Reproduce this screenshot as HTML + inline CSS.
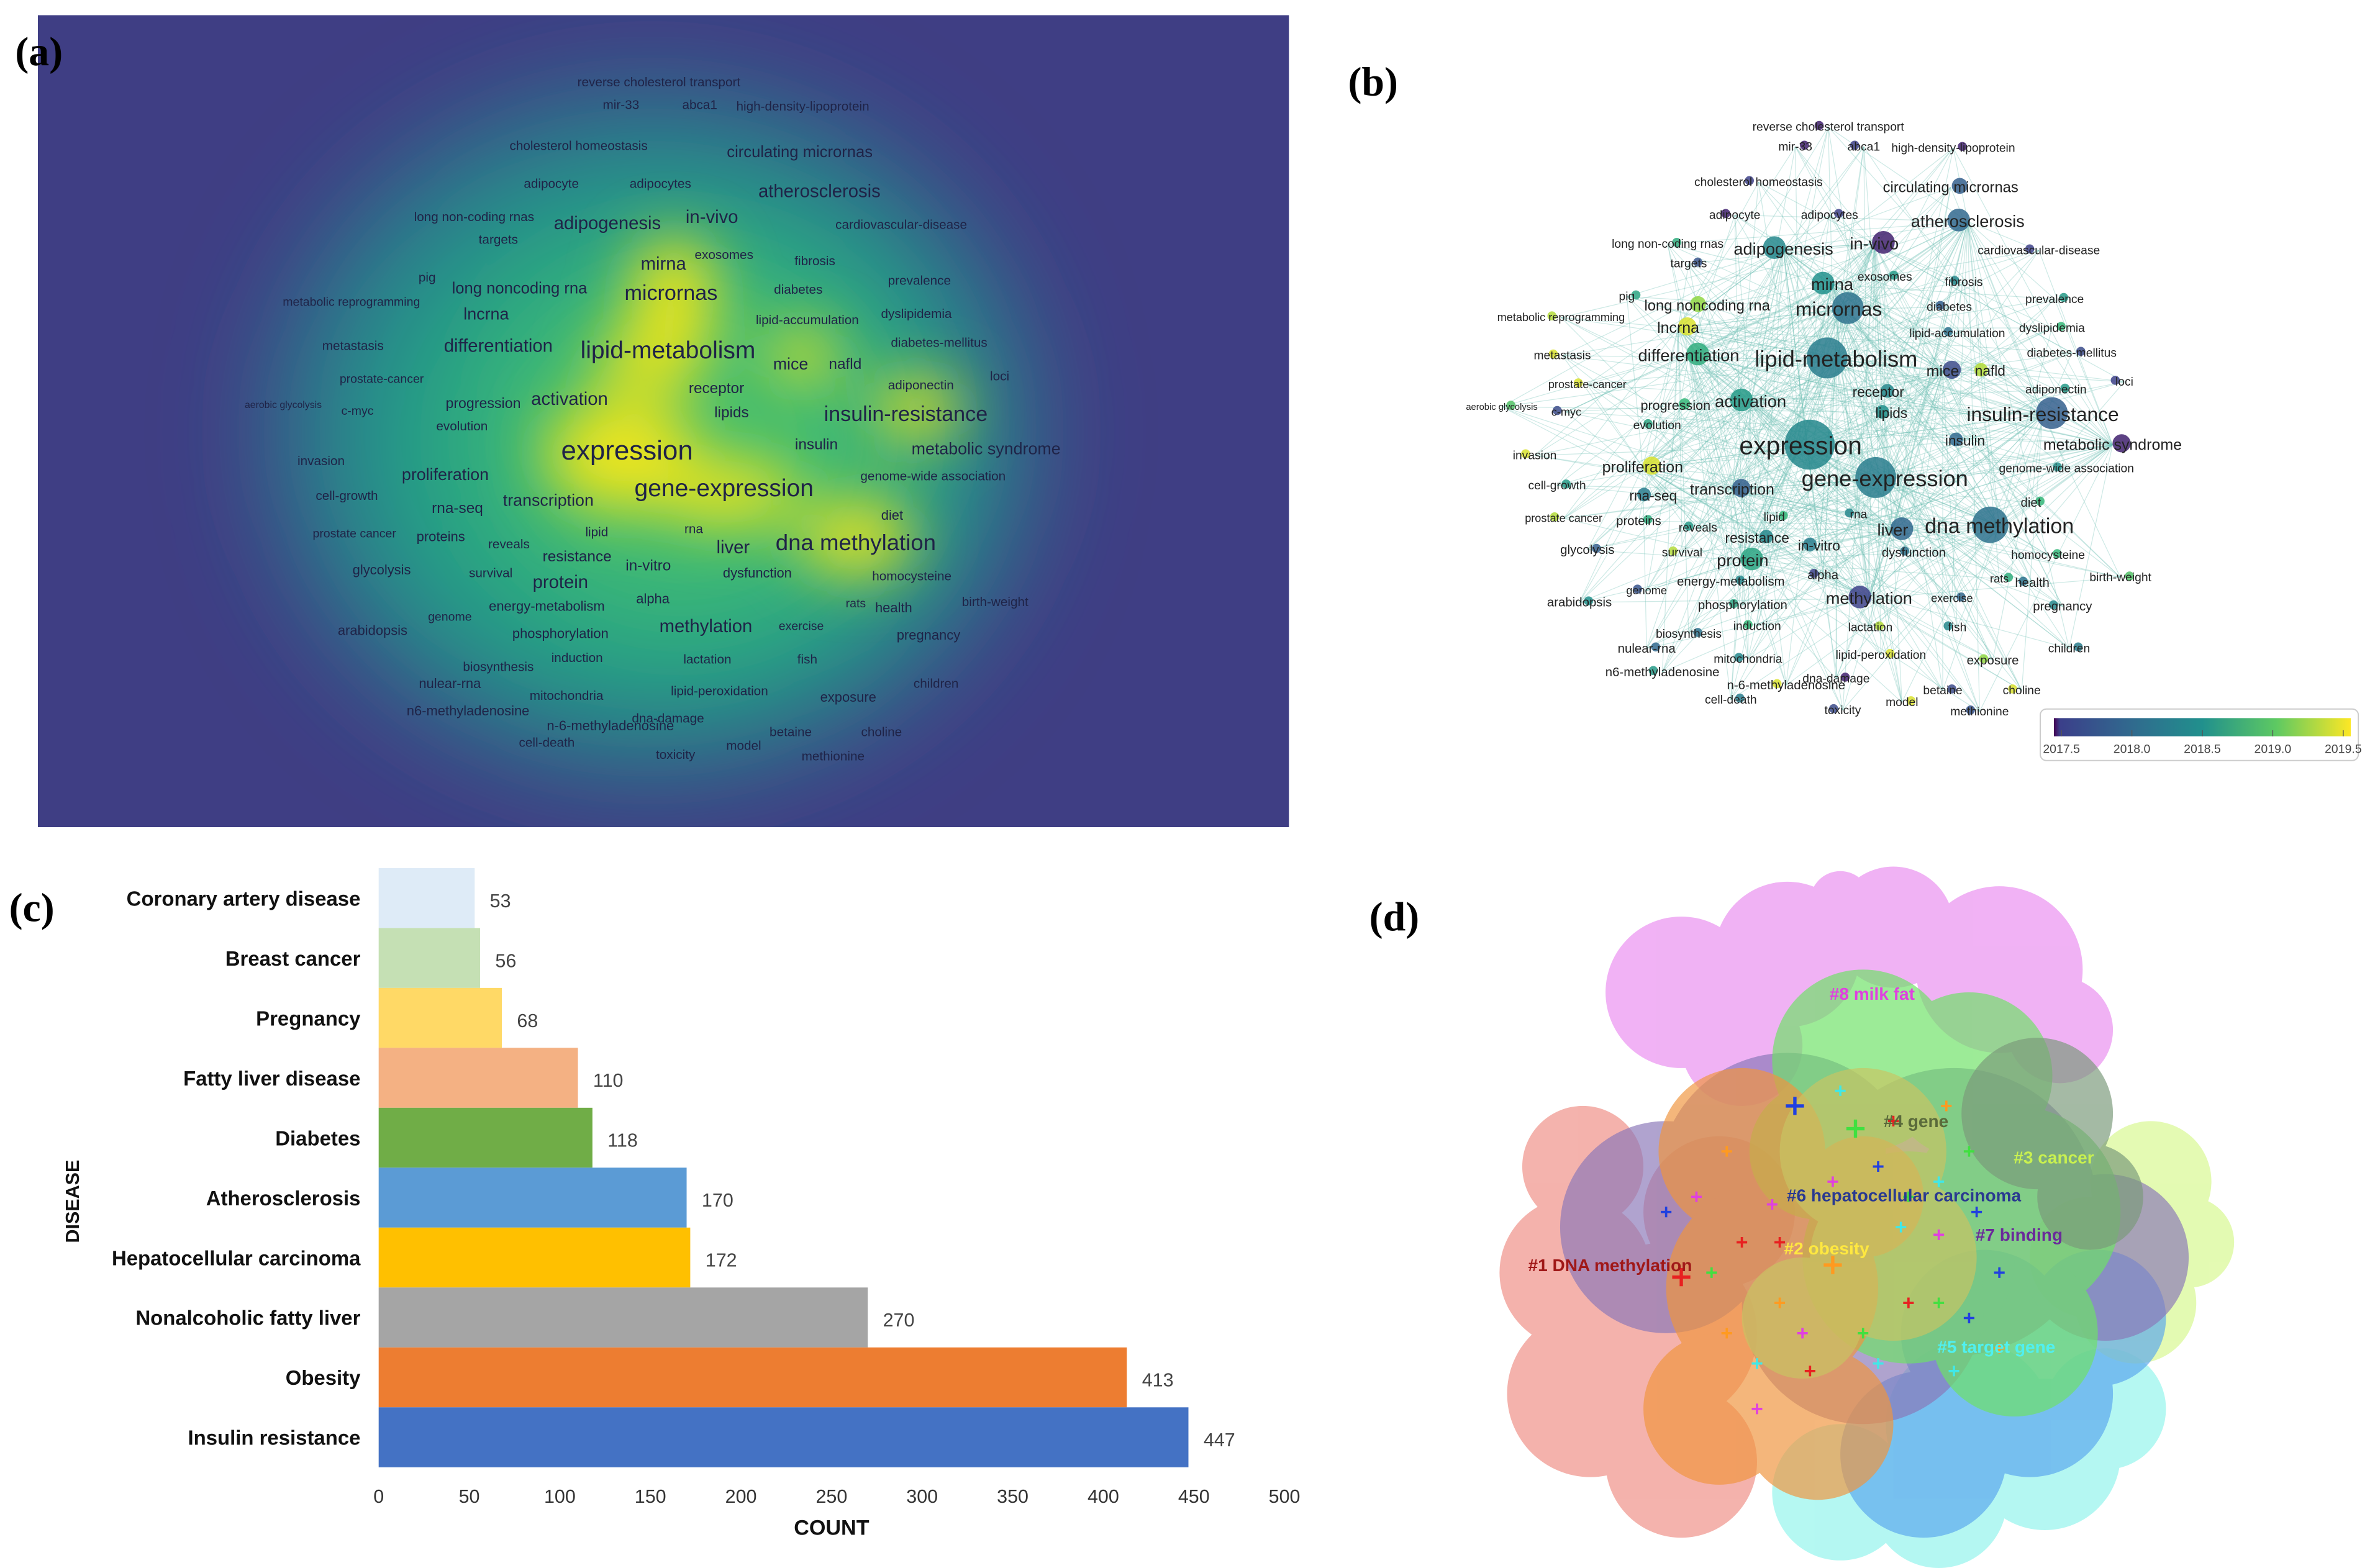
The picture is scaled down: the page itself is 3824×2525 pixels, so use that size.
<!DOCTYPE html>
<html><head><meta charset="utf-8"><style>
html,body{margin:0;padding:0;background:#fff;}
svg{display:block;}
.t{font-family:"Liberation Sans Narrow","Liberation Sans",sans-serif;}
</style></head><body>
<svg id="fig" width="3824" height="2525" viewBox="0 0 1568 1035" preserveAspectRatio="none" xmlns="http://www.w3.org/2000/svg">
<defs>
<filter id="blurA" x="-50%" y="-50%" width="200%" height="200%"><feGaussianBlur stdDeviation="36"/></filter>
<filter id="blurB" x="-50%" y="-50%" width="200%" height="200%"><feGaussianBlur stdDeviation="20"/></filter>
<clipPath id="clipA"><rect x="25" y="10" width="826" height="536"/></clipPath>
<linearGradient id="viridis" x1="0" x2="1" y1="0" y2="0">
<stop offset="0" stop-color="#440154"/><stop offset="0.02" stop-color="#3b3f8a"/><stop offset="0.25" stop-color="#31688e"/><stop offset="0.5" stop-color="#21908d"/><stop offset="0.75" stop-color="#5ec962"/><stop offset="1" stop-color="#fde725"/>
</linearGradient>
</defs>
<rect width="1568" height="1035" fill="#fff"/>
<g id="panelA"></g>
<g id="panelB"></g>
<g id="panelC"></g>
<g id="panelD"></g>
<text x="10" y="43" font-family="Liberation Serif,serif" font-weight="bold" font-size="27">(a)</text>
<text x="890" y="63" font-family="Liberation Serif,serif" font-weight="bold" font-size="27">(b)</text>
<text x="6" y="608" font-family="Liberation Serif,serif" font-weight="bold" font-size="27">(c)</text>
<text x="904" y="614" font-family="Liberation Serif,serif" font-weight="bold" font-size="27">(d)</text>
</svg>
<script>
const NS="http://www.w3.org/2000/svg";
function mk(tag,attrs,parent){const e=document.createElementNS(NS,tag);for(const k in attrs)e.setAttribute(k,attrs[k]);if(parent)parent.appendChild(e);return e;}

/* ---------- Panel C data ---------- */
const diseaseCategories=["Coronary artery disease","Breast cancer","Pregnancy","Fatty liver disease","Diabetes","Atherosclerosis","Hepatocellular carcinoma","Nonalcoholic fatty liver","Obesity","Insulin resistance"];
const diseaseCounts=[53,56,68,110,118,170,172,270,413,447];
const barColors=["#deebf7","#c5e0b4","#ffd966","#f4b183","#70ad47","#5b9bd5","#ffc000","#a5a5a5","#ed7d31","#4472c4"];
const countTicks=[0,50,100,150,200,250,300,350,400,450,500];

/* ---------- Panel A/B keyword data: [term, x, y, fontsize] ---------- */
const keywords=[
["reverse cholesterol transport",435,54,8.5],["mir-33",410,69,8.5],["abca1",462,69,8.5],["high-density-lipoprotein",530,70,8.5],
["cholesterol homeostasis",382,96,8.5],["circulating micrornas",528,100,10.5],
["adipocyte",364,121,8.5],["adipocytes",436,121,8.5],["atherosclerosis",541,126,12],
["long non-coding rnas",313,143,8.5],["adipogenesis",401,147,12],["in-vivo",470,143,12],["cardiovascular-disease",595,148,8.5],
["targets",329,158,8.5],["mirna",438,174,12],["exosomes",478,168,8.5],["fibrosis",538,172,8.5],
["pig",282,183,8.5],["long noncoding rna",343,190,10.5],["micrornas",443,193,14],["diabetes",527,191,8.5],["prevalence",607,185,8.5],
["metabolic reprogramming",232,199,8],["lncrna",321,207,11],["lipid-accumulation",533,211,8.5],["dyslipidemia",605,207,8.5],
["metastasis",233,228,8.5],["differentiation",329,228,12],["lipid-metabolism",441,231,16],["mice",522,240,11],["nafld",558,240,10],["diabetes-mellitus",620,226,8.5],
["prostate-cancer",252,250,8],["adiponectin",608,254,8.5],["loci",660,248,8.5],
["aerobic glycolysis",187,267,6.5],["c-myc",236,271,8],["progression",319,266,9.5],["activation",376,263,12],["receptor",473,256,10],["lipids",483,272,10],["insulin-resistance",598,273,14],
["evolution",305,281,8.5],["expression",414,297,18],["insulin",539,293,10],["metabolic syndrome",651,296,11],
["invasion",212,304,8.5],["proliferation",294,313,11],["genome-wide association",616,314,8.5],
["cell-growth",229,327,8.5],["rna-seq",302,335,10],["transcription",362,330,11],["gene-expression",478,322,16],
["diet",589,340,9],["prostate cancer",234,352,8],["proteins",291,354,9],["reveals",336,359,8.5],["lipid",394,351,8.5],["rna",458,349,8.5],["liver",484,361,12],["dna methylation",565,358,15],
["resistance",381,367,10],["in-vitro",428,373,10],["glycolysis",252,376,9],["survival",324,378,8.5],["protein",370,384,12],["dysfunction",500,378,9],["homocysteine",602,380,8.5],
["alpha",431,395,9],["rats",565,398,8],["health",590,401,9],["birth-weight",657,397,8.5],
["genome",297,407,8],["energy-metabolism",361,400,9],["methylation",466,413,12],["exercise",529,413,8],["pregnancy",613,419,9],
["arabidopsis",246,416,9],["phosphorylation",370,418,9],
["biosynthesis",329,440,8.5],["induction",381,434,8.5],["lactation",467,435,8.5],["fish",533,435,8.5],
["nulear-rna",297,451,9],["mitochondria",374,459,8.5],["lipid-peroxidation",475,456,8.5],["exposure",560,460,9],["children",618,451,8.5],
["n6-methyladenosine",309,469,9],["dna-damage",441,474,8.5],["n-6-methyladenosine",403,479,9],["betaine",522,483,8.5],["choline",582,483,8.5],
["cell-death",361,490,8.5],["toxicity",446,498,8.5],["model",491,492,8.5],["methionine",550,499,8.5]
];
const keywordYears=[2017.6,2017.6,2017.7,2017.6,2017.7,2018.0,2017.6,2017.7,2018.1,2018.8,2018.4,2017.6,2017.7,2017.9,2018.5,2018.6,2018.4,2018.7,2019.2,2018.2,2018.0,2018.6,2019.3,2019.4,2018.2,2018.9,2019.4,2018.8,2018.3,2017.8,2019.3,2017.8,2019.4,2018.6,2017.7,2019.0,2017.8,2018.9,2018.6,2018.4,2018.5,2018.0,2018.7,2018.4,2018.1,2017.6,2019.4,2019.4,2018.5,2018.6,2018.3,2018.0,2018.3,2018.9,2019.3,2018.8,2018.6,2018.9,2018.4,2018.1,2018.2,2018.4,2018.3,2018.0,2019.3,2018.7,2018.2,2018.9,2017.7,2018.8,2018.2,2019.0,2017.9,2018.4,2017.7,2018.1,2018.4,2018.5,2018.7,2018.2,2018.9,2019.3,2018.4,2018.1,2018.4,2019.4,2019.2,2018.3,2018.6,2017.6,2019.4,2017.8,2019.4,2018.3,2017.8,2019.4,2017.9,2018.6,2017.8];
const yearTicks=[2017.5,2018.0,2018.5,2019.0,2019.5];

/* ---------- Panel D cluster data ---------- */
const clusterLabels=["#8 milk fat","#4 gene","#3 cancer","#6 hepatocellular carcinoma","#7 binding","#2 obesity","#1 DNA methylation","#5 target gene"];

function viridis(t){
  const st=[[0,[68,1,84]],[0.1,[62,66,137]],[0.3,[49,104,142]],[0.5,[33,145,140]],[0.7,[53,183,121]],[0.85,[144,215,67]],[1,[253,231,37]]];
  t=Math.max(0,Math.min(1,t));
  for(let i=1;i<st.length;i++){if(t<=st[i][0]){const a=st[i-1],b=st[i],f=(t-a[0])/(b[0]-a[0]);const c=a[1].map((v,j)=>Math.round(v+(b[1][j]-v)*f));return `rgb(${c[0]},${c[1]},${c[2]})`;}}
  return "rgb(253,231,37)";
}

/* ================= PANEL A ================= */
(function(){
const g=document.getElementById('panelA');
const cl=mk('g',{'clip-path':'url(#clipA)'},g);
const bg=mk('rect',{x:25,y:10,width:826,height:536,fill:'#3f3e84'},cl);


const heat=mk('g',{filter:'url(#blurA)'},cl);


mk('ellipse',{cx:430,cy:285,rx:250,ry:225,fill:'#2a7f8d'},heat);
mk('ellipse',{cx:440,cy:295,rx:195,ry:175,fill:'#21a085'},heat);
mk('ellipse',{cx:450,cy:290,rx:135,ry:120,fill:'#3fbc72'},heat);
const hot=mk('g',{filter:'url(#blurB)'},cl);
[[410,300,50,38],[445,195,28,38],[480,325,48,22],[565,355,38,24],[605,270,28,20],[430,238,38,20],[530,235,22,18]].forEach(h=>{mk('ellipse',{cx:h[0],cy:h[1],rx:h[2],ry:h[3],fill:'#ece51b'},hot);});
keywords.forEach((k,i)=>{
  const t=mk('text',{x:k[1],y:k[2]+k[3]*0.35,'font-size':k[3],'text-anchor':'middle',fill:'#1f2347',class:'t'},g);
  t.textContent=k[0];
  
  
});
})();

/* ================= PANEL B ================= */
(function(){
const g=document.getElementById('panelB');
const bx=v=>829+v*0.869, by=v=>37+v*0.867;
const edges=mk('g',{stroke:'#6fc0b5','stroke-width':0.5,'stroke-opacity':0.35,fill:'none'},g);


const hubs=keywords.map((k,i)=>i).filter(i=>keywords[i][3]>=11);
keywords.forEach((k,i)=>{
  hubs.forEach((h,j)=>{ if((i+j)%3===0 && h!==i){const kh=keywords[h];mk('line',{x1:bx(k[1]),y1:by(k[2]),x2:bx(kh[1]),y2:by(kh[2])},edges);} });
});
const nodes=mk('g',{},g);
keywords.forEach((k,i)=>{
  const r=Math.max(3,(k[3]-7)*1.5);
  const c=mk('circle',{cx:bx(k[1])+ (i%2?6:-6),cy:by(k[2])-1,r:r,fill:viridis((keywordYears[i]-2017.5)/2),'fill-opacity':0.85},nodes);
  
  
});
keywords.forEach((k,i)=>{
  const t=mk('text',{x:bx(k[1]),y:by(k[2])+k[3]*0.3,'font-size':k[3]*0.93,'text-anchor':'middle',fill:'#222',class:'t'},g);
  t.textContent=k[0];
  
  
});
const cb=mk('g',{},g);


mk('rect',{x:1347,y:468,width:210,height:34,rx:4,fill:'#fff',stroke:'#ccc','stroke-width':0.8},cb);
const x0=1356,x1=1552;
mk('rect',{x:x0,y:474,width:x1-x0,height:12,fill:'url(#viridis)'},cb);
const cx=v=>x0+5+(v-2017.5)/2*(x1-x0-10);
yearTicks.forEach(v=>{
  mk('line',{x1:cx(v),x2:cx(v),y1:482,y2:486,stroke:'#555','stroke-width':0.6},cb);
  const t=mk('text',{x:cx(v),y:497,'font-size':8,'text-anchor':'middle',fill:'#444',class:'t'},cb);
  t.textContent=v.toFixed(1);
  
  
});
})();

/* ================= PANEL C ================= */
(function(){
const g=document.getElementById('panelC');
const x=v=>250+v*1.196;
const top=573, bh=39.55;
const y=i=>top+i*bh;
diseaseCategories.forEach((c,i)=>{
  const r=mk('rect',{x:x(0),y:y(i),width:x(diseaseCounts[i])-x(0),height:bh,fill:barColors[i]},g);
  
  
  const l=mk('text',{x:238,y:y(i)+bh/2+5,'font-size':13.5,'font-weight':'bold','text-anchor':'end',fill:'#111','font-family':'Liberation Sans Narrow,Liberation Sans,sans-serif'},g);
  l.textContent=c;
  
  
  const v=mk('text',{x:x(diseaseCounts[i])+10,y:y(i)+bh/2+6,'font-size':12.5,fill:'#444','font-family':'Liberation Sans Narrow,Liberation Sans,sans-serif'},g);
  v.textContent=diseaseCounts[i];
  
  
});
countTicks.forEach(t=>{
  const e=mk('text',{x:x(t),y:992,'font-size':12.5,'text-anchor':'middle',fill:'#333','font-family':'Liberation Sans Narrow,Liberation Sans,sans-serif'},g);
  e.textContent=t;
  
  
});
const xt=mk('text',{x:549,y:1013,'font-size':14,'font-weight':'bold','text-anchor':'middle',fill:'#111','font-family':'Liberation Sans Narrow,Liberation Sans,sans-serif'},g);
xt.textContent='COUNT';


const yt=mk('text',{x:0,y:0,'font-size':12.5,'font-weight':'bold','text-anchor':'middle',fill:'#111','font-family':'Liberation Sans,sans-serif',transform:'translate(52,793) rotate(-90)'},g);
yt.textContent='DISEASE';


})();

/* ================= PANEL D ================= */
(function(){
const g=document.getElementById('panelD');
const clusters=[
 ['pink-cluster','#ea8ef0',[[1110,655,50],[1180,630,48],[1250,612,40],[1320,640,55],[1215,595,20],[1360,680,35],[1150,690,40]]],
 ['cyan-cluster','#92f4ec',[[1215,985,45],[1280,990,45],[1350,960,50],[1390,930,40],[1300,940,55]]],
 ['red-cluster','#ef8f86',[[1045,770,40],[1040,840,50],[1050,920,55],[1110,965,50],[1135,800,50],[1100,880,60]]],
 ['lime-cluster','#d7f88f',[[1420,780,40],[1445,820,30],[1410,860,40],[1380,830,40]]],
 ['blue-cluster','#5aa6ee',[[1270,960,55],[1340,920,55],[1385,870,45],[1310,880,55]]],
 ['purple-cluster','#8a78b8',[[1100,810,70],[1180,780,85],[1290,800,95],[1390,830,55],[1230,860,80]]],
 ['green-cluster','#6ee266',[[1230,700,60],[1300,710,55],[1330,800,70],[1330,880,55],[1260,830,70],[1200,760,45]]],
 ['gray-cluster','#7a9a7a',[[1345,735,50],[1380,790,35]]],
 ['orange-cluster','#f0953e',[[1150,760,55],[1170,850,70],[1135,930,50],[1200,940,50],[1230,790,40]]],
 ['olive-cluster','#c9c463',[[1230,760,55],[1250,830,55],[1190,870,40]]]
];
clusters.forEach(c=>{
  const grp=mk('g',{opacity:0.68,fill:c[1]},g);
  
  
  c[2].forEach(p=>mk('circle',{cx:p[0],cy:p[1],r:p[2]},grp));
});
const cols=['#e82020','#ff9a20','#2040e0','#40e040','#40e8e8','#e040e0'];
const pts=[[1110,843],[1210,835],[1185,730],[1225,745],[1255,810],[1280,815],[1150,820],[1175,860],[1240,770],[1300,760],[1215,720],[1170,795],[1260,860],[1140,880],[1300,870],[1230,880],[1280,780],[1120,790],[1195,905],[1320,890],[1100,800],[1130,840],[1160,900],[1190,880],[1250,740],[1285,730],[1305,800],[1280,860],[1240,900],[1210,780],[1175,820],[1140,760],[1320,840],[1260,790],[1290,905],[1160,930]];
pts.forEach((p,i)=>{
  const s=i<4?6:3.5, c=cols[i%cols.length];
  const pl=mk('path',{d:`M${p[0]-s} ${p[1]}H${p[0]+s}M${p[0]} ${p[1]-s}V${p[1]+s}`,stroke:c,'stroke-width':i<4?2.2:1.5},g);
  
  
});
const labs=[[1236,660,'#e040e0'],[1265,744,'#5a6a3a'],[1356,768,'#c8f050'],[1257,793,'#2a3a90'],[1333,819,'#6a2a9a'],[1206,828,'#ffe840'],[1063,839,'#a01818'],[1318,893,'#50f0f0']];
clusterLabels.forEach((l,i)=>{
  const t=mk('text',{x:labs[i][0],y:labs[i][1],'font-size':11.5,'font-weight':'bold','text-anchor':'middle',fill:labs[i][2],'font-family':'Liberation Sans,sans-serif'},g);
  t.textContent=l;
  
  
});
})();
</script>
</body></html>
